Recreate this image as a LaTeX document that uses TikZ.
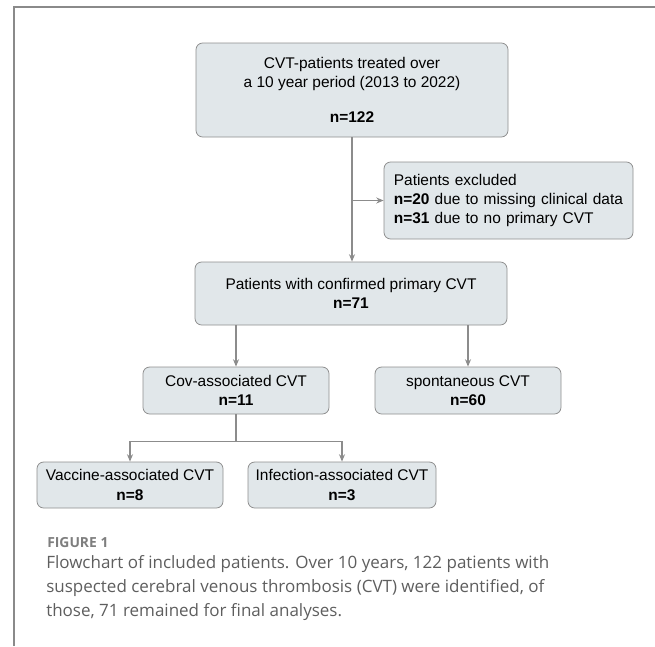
\documentclass[tikz,border=0pt]{standalone}
\usepackage{fontspec}
\setmainfont{Liberation Sans}
\newfontfamily\captionfont{Open Sans}
\usepackage{xcolor}
\usetikzlibrary{positioning,arrows.meta}

\definecolor{boxfill}{HTML}{E1E7EA}
\definecolor{boxline}{HTML}{8E8E8E}
\definecolor{linkgray}{HTML}{8C8C8C}
\definecolor{framegray}{HTML}{8A8A8A}
\definecolor{captiongray}{HTML}{5E5E5E}

\begin{document}
\begin{tikzpicture}[x=0.75pt, y=-0.75pt,
  stage/.style={draw=boxline, fill=boxfill, rounded corners=5pt, line width=0.6pt, align=center,
    font=\fontsize{11.6}{14.5}\selectfont, inner sep=0pt},
  link/.style={draw=linkgray, line width=0.8pt},
  arr/.style={link, -{Stealth[length=5.5pt, width=4.5pt]}},
]
  % Page and frame
  \useasboundingbox (0,0) rectangle (655,646);
  \draw[framegray, line width=1.5pt] (14,646) -- (14,7) -- (655,7);

  % Boxes
  \node[stage, minimum width=234pt, minimum height=70.5pt] (start) at (352,90)
    {CVT-patients treated over\\a 10 year period (2013 to 2022)\\[12pt]\textbf{n=122}};
  \node[stage, minimum width=186.75pt, minimum height=57.75pt, align=left, text width=172pt] (excl) at (508.5,200.5)
    {Patients excluded\\\textbf{n=20} due to missing clinical data\\\textbf{n=31} due to no primary CVT};
  \node[stage, minimum width=234pt, minimum height=47.25pt] (mid) at (351,293.5)
    {Patients with confirmed primary CVT\\\textbf{n=71}};
  \node[stage, minimum width=139.5pt, minimum height=35.25pt] (cov) at (236,390.5)
    {Cov-associated CVT\\\textbf{n=11}};
  \node[stage, minimum width=139.5pt, minimum height=35.25pt] (spont) at (468,390.5)
    {spontaneous CVT\\\textbf{n=60}};
  \node[stage, minimum width=139.5pt, minimum height=34.5pt] (vacc) at (130,485)
    {Vaccine-associated CVT\\\textbf{n=8}};
  \node[stage, minimum width=141pt, minimum height=34.5pt] (infect) at (342,485)
    {Infection-associated CVT\\\textbf{n=3}};

  % Connectors
  \draw[arr] (start.south) -- (start.south |- mid.north);
  \draw[arr] (start.south |- excl.west) -- (excl.west);
  \draw[arr] (mid.south -| cov.north) -- (cov.north);
  \draw[arr] (mid.south -| spont.north) -- (spont.north);
  \draw[link] (cov.south) -- ++(0,27) coordinate (split);
  \draw[arr] (split) -| (vacc.north);
  \draw[arr] (split) -| (infect.north);

  % Caption
  \node[anchor=west, text=captiongray!80, font=\captionfont\bfseries\fontsize{10.4}{12}\selectfont, inner sep=0pt] (figlabel) at (47,543) {FIGURE 1};
  \node[anchor=north west, text=captiongray, align=left, inner sep=0pt,
    font=\captionfont\fontsize{12.75}{18}\selectfont] (caption) at (46,555)
    {Flowchart of included patients. Over 10 years, 122 patients with\\
     suspected cerebral venous thrombosis (CVT) were identified, of\\
     those, 71 remained for final analyses.};
\end{tikzpicture}
\end{document}
